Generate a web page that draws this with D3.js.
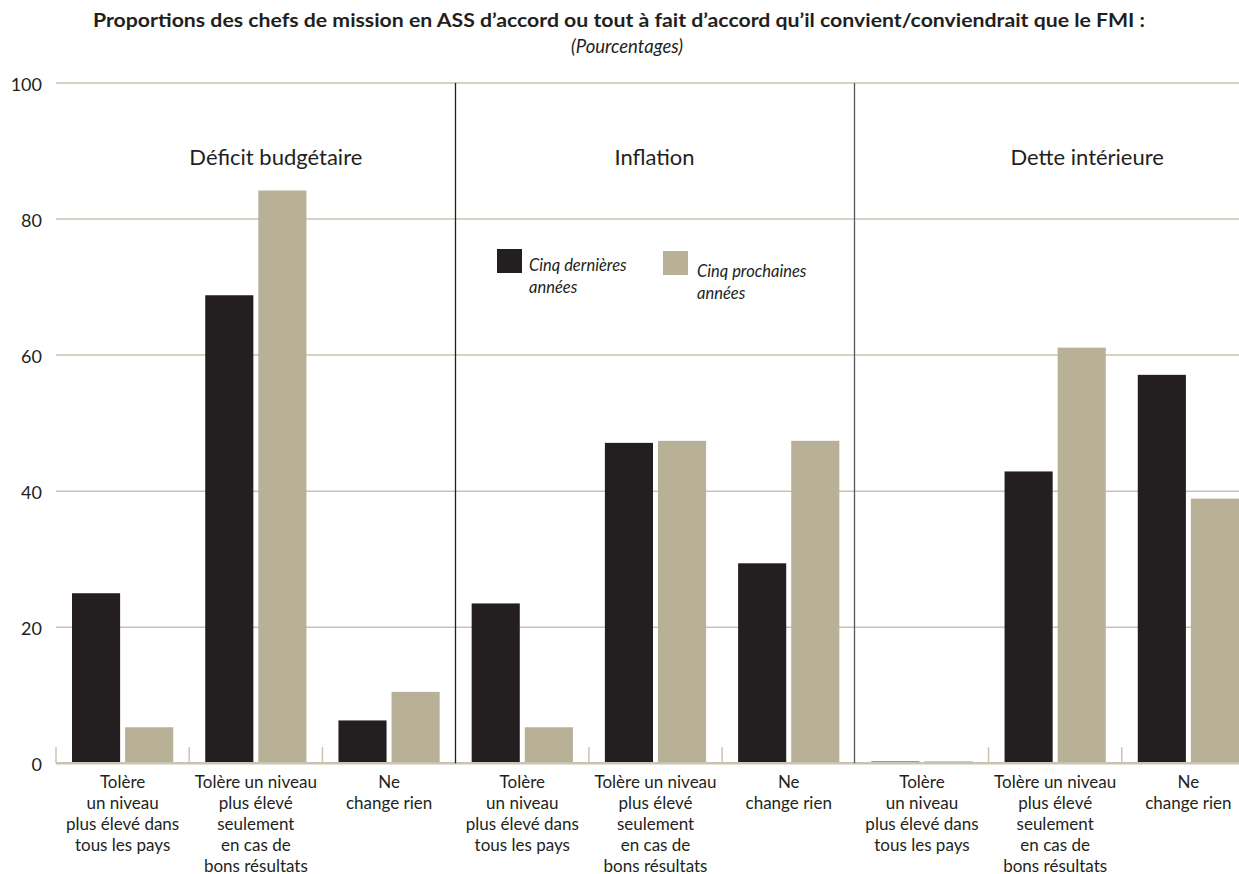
<!DOCTYPE html>
<html lang="fr">
<head>
<meta charset="utf-8">
<script src="https://cdn.jsdelivr.net/npm/d3@7"></script>
<style>
  html, body { margin: 0; padding: 0; background: #ffffff; }
  svg { display: block; font-family: Lato, "Open Sans", sans-serif; }
</style>
</head>
<body>
<svg id="chart" width="1239" height="874"></svg>
<script>
// Survey groups and response categories (one category set per group)
const groups = ["Déficit budgétaire", "Inflation", "Dette intérieure"];
const responseLabels = [
  ["Tolère", "un niveau", "plus élevé dans", "tous les pays"],
  ["Tolère un niveau", "plus élevé", "seulement", "en cas de", "bons résultats"],
  ["Ne", "change rien"]
];
const seriesNames = [["Cinq dernières", "années"], ["Cinq prochaines", "années"]];
// Percentages, in order: group 1 (3 responses), group 2, group 3
const pastFiveYears = [25.0, 68.8, 6.3, 23.5, 47.1, 29.4, 0, 42.9, 57.1];
const nextFiveYears = [5.3, 84.2, 10.5, 5.3, 47.4, 47.4, 0, 61.1, 38.9];
const yTicks = [0, 20, 40, 60, 80, 100];

const colors = ["#231f20", "#b8b097"];
const gridColor = "#c9c3b1";
const textColor = "#231f20";

const svg = d3.select("#chart");

// One slot per (group, response) pair
const slots = [];
groups.forEach((g, gi) => responseLabels.forEach((lab, ri) => {
  const i = gi * responseLabels.length + ri;
  slots.push({ i, group: g, gi, ri, lines: lab, values: [pastFiveYears[i], nextFiveYears[i]] });
}));

const plotLeft = 56, plotRight = 1255, plotTop = 83, plotBottom = 763.3;

const x = d3.scaleBand().domain(slots.map(d => d.i)).range([plotLeft, plotRight]).padding(0);
const x1 = d3.scaleBand().domain([0, 1])
  .range([16, x.bandwidth() - 16]).paddingInner(0.094).paddingOuter(0);
const y = d3.scaleLinear().domain([0, 100]).range([plotBottom, plotTop]);

// Title
svg.append("text")
  .attr("x", 619).attr("y", 27)
  .attr("text-anchor", "middle")
  .attr("font-weight", 700).attr("font-size", 19.5)
  .attr("textLength", 1052).attr("lengthAdjust", "spacingAndGlyphs")
  .attr("fill", textColor)
  .text("Proportions des chefs de mission en ASS d’accord ou tout à fait d’accord qu’il convient/conviendrait que le FMI :");
svg.append("text")
  .attr("x", 627).attr("y", 53)
  .attr("text-anchor", "middle")
  .attr("font-style", "italic").attr("font-size", 18.5)
  .attr("fill", textColor)
  .text("(Pourcentages)");

// Horizontal gridlines (baseline drawn separately)
svg.append("g").selectAll("line")
  .data(yTicks.filter(t => t > 0))
  .join("line")
  .attr("x1", plotLeft).attr("x2", plotRight)
  .attr("y1", d => y(d)).attr("y2", d => y(d))
  .attr("stroke", gridColor).attr("stroke-width", 1.5);

// Y axis labels
const yAxis = d3.axisLeft(y).tickValues(yTicks).tickSize(0).tickPadding(0);
const yg = svg.append("g").attr("transform", `translate(42,0)`).call(yAxis);
yg.select(".domain").remove();
yg.selectAll("text")
  .attr("font-family", "Lato, 'Open Sans', sans-serif")
  .attr("font-size", 18).attr("fill", textColor)
  .attr("dy", "0.4em");

// Bars
const barG = svg.append("g").selectAll("g")
  .data(slots)
  .join("g")
  .attr("transform", d => `translate(${x(d.i)},0)`);
barG.selectAll("rect")
  .data(d => d.values.map((v, s) => ({ v, s })))
  .join("rect")
  .attr("x", d => x1(d.s))
  .attr("width", x1.bandwidth())
  .attr("y", d => d.v > 0 ? y(d.v) : y(0) - 2)
  .attr("height", d => d.v > 0 ? y(0) - y(d.v) : 2)
  .attr("fill", d => d.v > 0 ? colors[d.s] : (d.s === 0 ? "#6d6e71" : colors[1]));

// Baseline
svg.append("line")
  .attr("x1", plotLeft).attr("x2", plotRight)
  .attr("y1", y(0)).attr("y2", y(0))
  .attr("stroke", gridColor).attr("stroke-width", 2.5);

// Small separators between response categories inside each group
const sepIdx = slots.filter(d => d.ri !== 0 || d.gi === 0).map(d => d.i);
svg.append("g").selectAll("line")
  .data(sepIdx)
  .join("line")
  .attr("x1", d => x(d)).attr("x2", d => x(d))
  .attr("y1", y(0) - 16).attr("y2", y(0))
  .attr("stroke", gridColor).attr("stroke-width", 1.5);

// Vertical dividers between groups
svg.append("g").selectAll("line")
  .data(slots.filter(d => d.gi > 0 && d.ri === 0))
  .join("line")
  .attr("x1", d => Math.round(x(d.i)) - 0.5).attr("x2", d => Math.round(x(d.i)) - 0.5)
  .attr("y1", plotTop).attr("y2", y(0))
  .attr("stroke", (d) => d.gi === 1 ? "#231f20" : "#58585a").attr("stroke-width", 1.3);

// Group titles
const groupOffsets = [20, -1, 32];
svg.append("g").selectAll("text")
  .data(groups)
  .join("text")
  .attr("x", (g, gi) => x(gi * 3) + 1.5 * x.bandwidth() + groupOffsets[gi])
  .attr("y", 165)
  .attr("text-anchor", "middle")
  .attr("font-size", 22).attr("fill", textColor)
  .text(g => g);

// Category labels under the axis
const labG = svg.append("g").selectAll("text")
  .data(slots)
  .join("text")
  .attr("transform", d => `translate(${x(d.i) + x.bandwidth() / 2},787.5)`)
  .attr("text-anchor", "middle")
  .attr("font-size", 17).attr("fill", textColor);
labG.selectAll("tspan")
  .data(d => d.lines)
  .join("tspan")
  .attr("x", 0)
  .attr("y", (l, k) => k * 21)
  .text(l => l);

// Legend
const legendPos = [{ sx: 497, sy: 249, tx: 529, ty: 271 }, { sx: 663, sy: 251, tx: 697, ty: 277 }];
const leg = svg.append("g").selectAll("g")
  .data(seriesNames)
  .join("g");
leg.append("rect")
  .attr("x", (d, s) => legendPos[s].sx).attr("y", (d, s) => legendPos[s].sy)
  .attr("width", 25).attr("height", 24)
  .attr("fill", (d, s) => colors[s]);
leg.append("text")
  .attr("font-style", "italic").attr("font-size", 16.5).attr("fill", textColor)
  .each(function (d, s) {
    d3.select(this).selectAll("tspan")
      .data(d)
      .join("tspan")
      .attr("x", legendPos[s].tx)
      .attr("y", (l, k) => legendPos[s].ty + k * 22)
      .text(l => l);
  });
</script>
</body>
</html>
